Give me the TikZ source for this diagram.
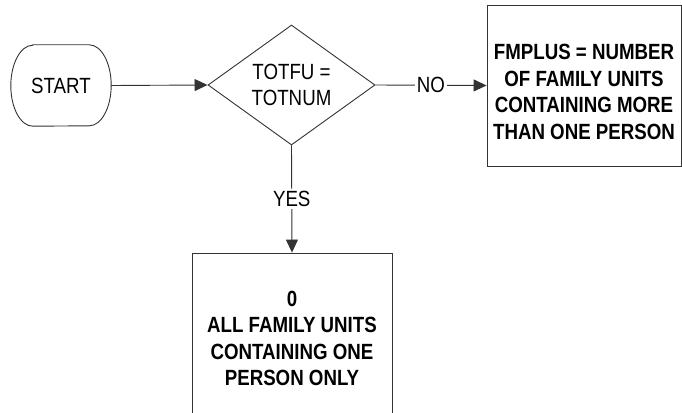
\documentclass[tikz,border=0pt]{standalone}
\usepackage{fontspec}
\setmainfont{Liberation Sans}[FakeStretch=0.85]
\usetikzlibrary{shapes.geometric,arrows.meta}
\begin{document}
\begin{tikzpicture}[x=1pt,y=-1pt,
  line/.style={draw=black!80,line width=0.9pt},
  arr/.style={line,-{Triangle[length=13pt,width=12pt]}},
  txt/.style={font=\fontsize{22}{26.5}\selectfont,align=center,inner sep=0pt},
  btxt/.style={txt,font=\fontsize{22}{26.5}\selectfont\bfseries},
  lbl/.style={txt,fill=white,inner sep=2pt}]
\useasboundingbox (0,0) rectangle (682,412);
\clip (0,0) rectangle (682,412);
\node[txt,minimum width=100pt,minimum height=81pt] (start) at (61,85.5) {START};
\draw[line] ([xshift=22pt]start.north west) -- ([xshift=-22pt]start.north east)
  arc[start angle=90,end angle=-90,x radius=22pt,y radius=40.5pt]
  -- ([xshift=22pt]start.south west)
  arc[start angle=270,end angle=90,x radius=22pt,y radius=40.5pt] -- cycle;
\node[txt,shape=diamond,line,minimum width=167pt,minimum height=120pt,aspect=1.39] (dec) at (291.5,85) {TOTFU =\\TOTNUM};
\node[line,minimum width=194pt,minimum height=161pt,inner sep=0pt] (fm) at (584,85.5) {};
\node[btxt] (fmt) at (584,92) {FMPLUS = NUMBER\\OF FAMILY UNITS\\CONTAINING MORE\\THAN ONE PERSON};
\node[line,minimum width=200pt,minimum height=187pt,inner sep=0pt] (one) at (292,346.5) {};
\node[btxt] (onet) at (292,338.5) {0\\ALL FAMILY UNITS\\CONTAINING ONE\\PERSON ONLY};
\draw[arr] (start.east) -- (dec.west);
\draw[arr] (dec.east) -- node[lbl]{NO} (fm.west);
\draw[arr] (dec.south) -- node[lbl]{YES} (one.north);
\end{tikzpicture}
\end{document}
